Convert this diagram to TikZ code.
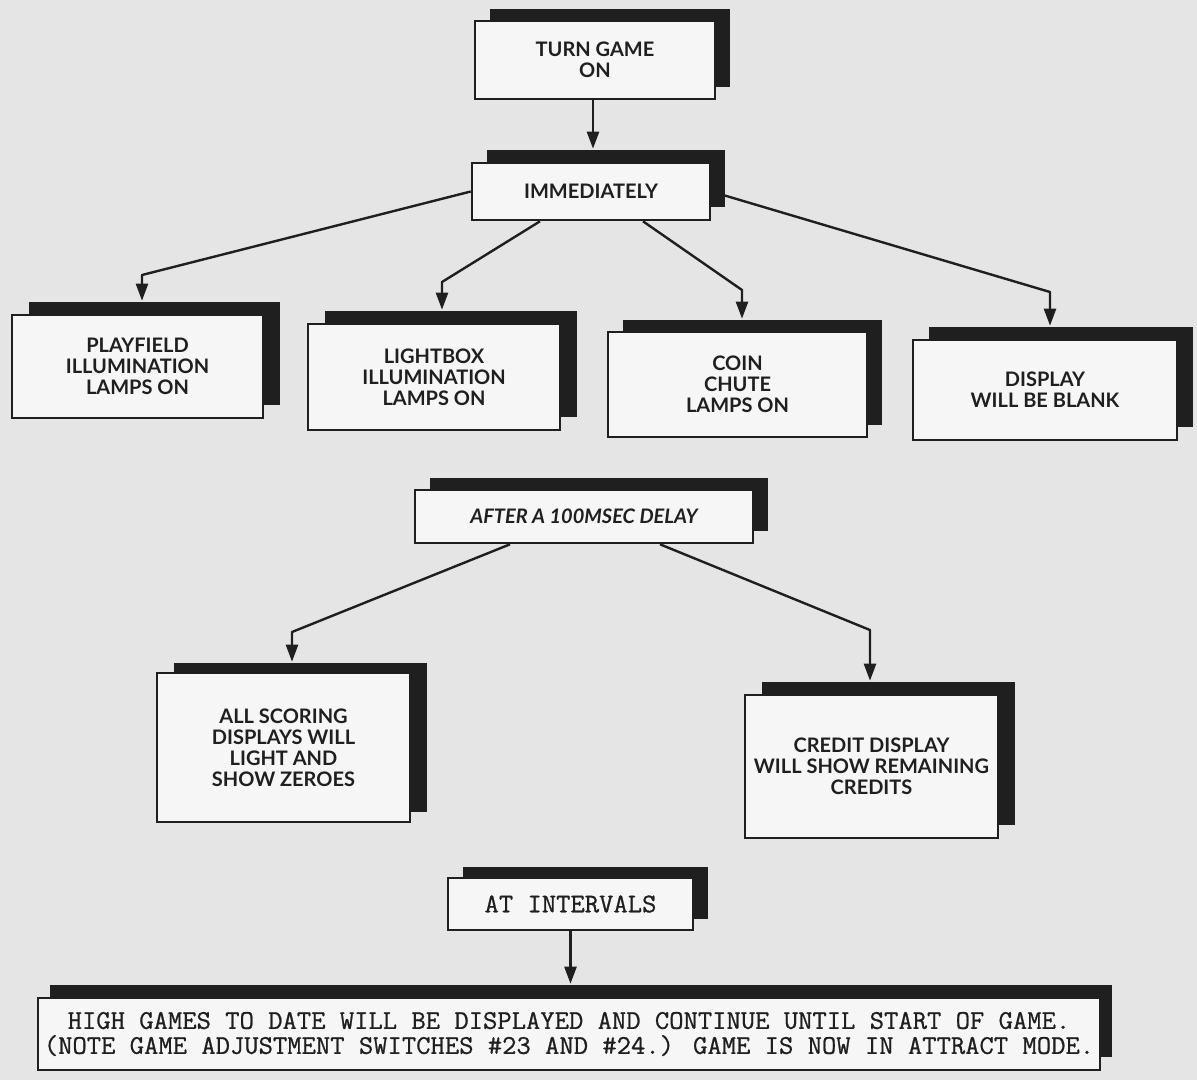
\documentclass[tikz,border=0pt]{standalone}
\usepackage{fontspec}
\usetikzlibrary{shadows,arrows.meta}
\newfontfamily\optfont{Lato}
\newfontfamily\typfont{Latin Modern Mono}[FakeBold=0.8,FakeStretch=1.03]
\definecolor{paper}{gray}{0.9}
\definecolor{boxfill}{gray}{0.965}
\definecolor{ink}{gray}{0.12}
\tikzset{
  fbox/.style={draw=ink, line width=2.6pt, fill=boxfill, inner sep=0pt, align=center, text=ink,
    font=\optfont\bfseries\fontsize{20}{21}\selectfont},
  tbox/.style={fbox, font=\typfont\fontsize{27}{25}\selectfont},
  sh/.style 2 args={drop shadow={shadow xshift=#1pt, shadow yshift=#2pt, fill=ink, opacity=1}},
  arr/.style={draw=ink, line width=2.4pt, line join=round, -{Triangle[length=17pt,width=12pt]}}
}
\begin{document}
\begin{tikzpicture}[x=1pt,y=-1pt]
\useasboundingbox (0,0) rectangle (1197,1080);
\fill[paper] (0,0) rectangle (1197,1080);

\node[fbox, sh={15}{12}, minimum width=240pt, minimum height=78pt] (turn) at (595,60) {TURN GAME\\ON};
\node[fbox, sh={15}{13}, minimum width=238pt, minimum height=57pt] (imm) at (591,191.5) {IMMEDIATELY};
\node[fbox, sh={17}{13}, minimum width=251pt, minimum height=103pt] (play) at (137.5,366.5) {PLAYFIELD\\ILLUMINATION\\LAMPS ON};
\node[fbox, sh={17}{13}, minimum width=252pt, minimum height=106pt] (light) at (434,377) {LIGHTBOX\\ILLUMINATION\\LAMPS ON};
\node[fbox, sh={15}{12}, minimum width=259pt, minimum height=105pt] (coin) at (737.5,384.5) {COIN\\CHUTE\\LAMPS ON};
\node[fbox, sh={16}{13}, minimum width=264pt, minimum height=100pt] (disp) at (1045,390) {DISPLAY\\WILL BE BLANK};
\node[fbox, sh={15}{12}, minimum width=338pt, minimum height=53pt, font=\optfont\bfseries\itshape\fontsize{20}{21}\selectfont] (after) at (584,516.5) {AFTER A 100MSEC DELAY};
\node[fbox, sh={17}{10}, minimum width=253pt, minimum height=149pt] (all) at (283.5,747.5) {ALL SCORING\\DISPLAYS WILL\\LIGHT AND\\SHOW ZEROES};
\node[fbox, sh={17}{13}, minimum width=253pt, minimum height=143pt] (credit) at (871.5,766.5) {CREDIT DISPLAY\\WILL SHOW REMAINING\\CREDITS};
\node[tbox, sh={15}{11}, minimum width=245pt, minimum height=52pt] (atint) at (570.5,904) {AT INTERVALS};
\node[tbox, sh={12}{13}, minimum width=1062pt, minimum height=72pt] (high) at (569,1034) {HIGH GAMES TO DATE WILL BE DISPLAYED AND CONTINUE UNTIL START OF GAME.\\(NOTE GAME ADJUSTMENT SWITCHES \#23 AND \#24.) GAME IS NOW IN ATTRACT MODE.};

\coordinate (a0) at (593,120);
\coordinate (b1) at (142,275);
\coordinate (b2) at (442,282);
\coordinate (b3) at (742,290);
\coordinate (b4) at (1050,292);
\coordinate (b5) at (292,632);
\coordinate (b6) at (870,630);

\draw[arr, shorten >=13pt] (turn.south -| a0) -- (imm.north -| a0);
\draw[arr, shorten >=13pt] (imm.west) -- (b1) -- (play.north -| b1);
\draw[arr, shorten >=13pt] ([xshift=-51pt]imm.south) -- (b2) -- (light.north -| b2);
\draw[arr, shorten >=12pt] ([xshift=52pt]imm.south) -- (b3) -- (coin.north -| b3);
\draw[arr, shorten >=13pt] (imm.east) -- (b4) -- (disp.north -| b4);
\draw[arr, shorten >=10pt] ([xshift=-74pt]after.south) -- (b5) -- (all.north -| b5);
\draw[arr, shorten >=13pt] ([xshift=76pt]after.south) -- (b6) -- (credit.north -| b6);
\draw[arr, shorten >=13pt] (atint.south) -- (high.north -| atint.south);
\end{tikzpicture}
\end{document}
